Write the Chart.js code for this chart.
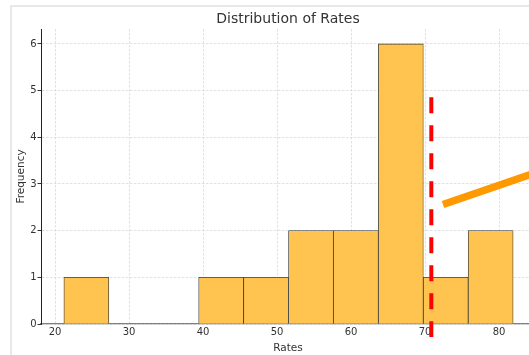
<!DOCTYPE html>
<html>
<head>
<meta charset="utf-8">
<script src="https://cdn.jsdelivr.net/npm/chart.js@4.4.0/dist/chart.umd.min.js"></script>
<style>
  html, body { margin: 0; padding: 0; background: #fff; overflow: hidden; width: 529px; height: 355px; }
  .frame { position: absolute; left: 10px; top: 5px; width: 600px; height: 400px;
           border-left: 2px solid #e8e8e8; border-top: 2px solid #e8e8e8; }
  #chart { position: absolute; left: 0; top: 0; }
</style>
</head>
<body>
<div class="frame"></div>
<canvas id="chart" width="576" height="355"></canvas>
<script>
// histogram bins (centres) and counts
const binCenters = [24.23, 30.30, 36.37, 42.44, 48.51, 54.58, 60.65, 66.72, 72.79, 78.86];
const counts = [1, 0, 0, 1, 1, 2, 2, 6, 1, 2];

const xTicks = [20, 30, 40, 50, 60, 70, 80];
const yTicks = [0, 1, 2, 3, 4, 5, 6];

// red dashed marker line and orange pointer line
const redLine = [{ x: 70.84, y: 4.86 }, { x: 70.84, y: -0.28 }];
const orangeLine = [{ x: 72.42, y: 2.56 }, { x: 86, y: 3.3 }];

const titleText = 'Distribution of Rates';
const font = 'DejaVu Sans';
const textColor = '#333';

// title centred over the plot area (like matplotlib), not over the whole canvas
const axesTitle = {
    id: 'axesTitle',
    afterDraw(chart) {
        const { ctx, chartArea } = chart;
        ctx.save();
        ctx.font = `14px "${font}"`;
        ctx.fillStyle = textColor;
        ctx.textAlign = 'center';
        ctx.textBaseline = 'middle';
        ctx.fillText(titleText, (chartArea.left + chartArea.right) / 2, 19.5);
        ctx.restore();
    }
};

const ctx = document.getElementById('chart').getContext('2d');
new Chart(ctx, {
    type: 'bar',
    data: {
        datasets: [
            {
                type: 'line',
                data: redLine,
                borderColor: '#ff0000',
                borderWidth: 4,
                borderDash: [16, 12],
                pointRadius: 0,
                clip: false,
                order: 0
            },
            {
                type: 'line',
                data: orangeLine,
                borderColor: '#ff9900',
                borderWidth: 7.5,
                pointRadius: 0,
                clip: false,
                order: 1
            },
            {
                label: 'Frequency',
                data: binCenters.map((c, i) => ({ x: c, y: counts[i] })),
                backgroundColor: 'rgb(255, 196, 79)',
                borderColor: '#3a3a3a',
                borderWidth: 0.8,
                barPercentage: 1,
                categoryPercentage: 1,
                order: 2
            }
        ]
    },
    options: {
        responsive: false,
        animation: false,
        devicePixelRatio: 1,
        layout: { padding: { left: 0, right: 41, top: 29, bottom: 0 } },
        plugins: {
            legend: { display: false },
            tooltip: { enabled: false },
            title: { display: false }
        },
        scales: {
            x: {
                type: 'linear',
                offset: false,
                min: 18.1,
                max: 84.85,
                afterBuildTicks: s => { s.ticks = xTicks.map(v => ({ value: v })); },
                afterFit: s => { s.height = 31; },
                grid: { color: '#d9d9d9', lineWidth: 0.8, drawTicks: false, offset: false },
                border: { color: '#808080', width: 1.3, dash: [2.5, 1.5] },
                ticks: { color: textColor, font: { family: font, size: 10 }, padding: 2.5, maxRotation: 0 },
                title: {
                    display: true, text: 'Rates', color: textColor,
                    font: { family: font, size: 10.5, lineHeight: 1.2 },
                    padding: { top: 3.7, bottom: 0 }
                }
            },
            y: {
                min: 0,
                max: 6.32,
                afterBuildTicks: s => { s.ticks = yTicks.map(v => ({ value: v })); },
                afterFit: s => { s.width = 41; },
                grid: { color: '#d9d9d9', lineWidth: 0.8, tickLength: 3.5, tickColor: '#333', tickBorderDash: [], tickWidth: 1 },
                border: { color: '#222', width: 1, dash: [2.5, 1.5] },
                ticks: { color: textColor, font: { family: font, size: 10 }, padding: 1 },
                title: {
                    display: true, text: 'Frequency', color: textColor,
                    font: { family: font, size: 10.5, lineHeight: 1.2 },
                    padding: { top: 15.2, bottom: 0 }
                }
            }
        }
    },
    plugins: [axesTitle]
});
</script>
</body>
</html>
